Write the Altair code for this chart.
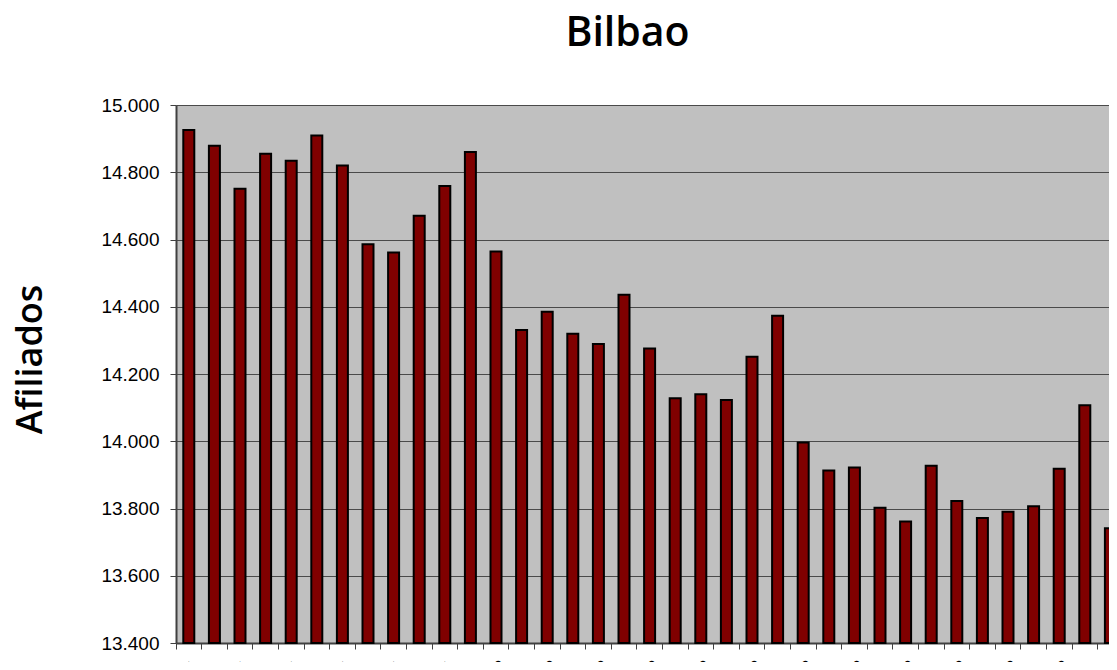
import altair as alt
import pandas as pd

periodos = [
    "ene-11", "feb-11", "mar-11", "abr-11", "may-11", "jun-11",
    "jul-11", "ago-11", "sep-11", "oct-11", "nov-11", "dic-11",
    "ene-12", "feb-12", "mar-12", "abr-12", "may-12", "jun-12",
    "jul-12", "ago-12", "sep-12", "oct-12", "nov-12", "dic-12",
    "ene-13", "feb-13", "mar-13", "abr-13", "may-13", "jun-13",
    "jul-13", "ago-13", "sep-13", "oct-13", "nov-13", "dic-13",
    "ene-14",
]
afiliados = [
    14926, 14879, 14751, 14855, 14834, 14909, 14820, 14586, 14561, 14671, 14759, 14860,
    14564, 14331, 14385, 14320, 14289, 14436, 14276, 14128, 14140, 14123, 14251, 14373,
    13996, 13913, 13922, 13802, 13761, 13927, 13822, 13772, 13790, 13807, 13918, 14107,
    13741,
]
y_ticks = [13400, 13600, 13800, 14000, 14200, 14400, 14600, 14800, 15000]
y_min = 13400
y_max = 15000

df = pd.DataFrame({"periodo": periodos, "afiliados": afiliados})

chart = (
    alt.Chart(df)
    .mark_bar(color="#800000", stroke="#000000", strokeWidth=2, width=11)
    .encode(
        x=alt.X(
            "periodo:N",
            sort=None,
            scale=alt.Scale(range=[0, 947.2], paddingInner=0, paddingOuter=0),
            axis=alt.Axis(
                title=None,
                bandPosition=0,
                labelAngle=315,
                labelAlign="right",
                labelBaseline="middle",
                labelOffset=8,
                labelPadding=14,
                labelFont="Liberation Sans",
                labelFontSize=19,
                labelColor="#000000",
                labelExpr="indexof(['ene','mar','may','jul','sep','nov'], slice(datum.label,0,3)) >= 0 ? datum.label : ''",
                tickSize=6,
                tickColor="#404040",
                domainColor="#404040",
                domainWidth=2,
            ),
        ),
        y=alt.Y(
            "afiliados:Q",
            scale=alt.Scale(domain=[y_min, y_max], nice=False, zero=False),
            axis=alt.Axis(
                title="Afiliados",
                titleFont="Open Sans",
                titleFontSize=36,
                titleFontWeight=600,
                titleColor="#000000",
                titleAngle=270,
                titleX=-135,
                titleY=254,
                titleAlign="center",
                titleBaseline="alphabetic",
                values=y_ticks,
                labelExpr="replace(format(datum.value, ','), ',', '.')",
                labelFont="Liberation Sans",
                labelFontSize=19,
                labelColor="#000000",
                labelPadding=11,
                tickSize=6,
                tickColor="#404040",
                domainColor="#404040",
                domainWidth=2,
                gridColor="#4a4a4a",
                gridWidth=1,
            ),
        ),
        y2=alt.datum(y_min),
    )
    .properties(
        width=933,
        height=538,
        title=alt.TitleParams(
            text="Bilbao",
            font="Open Sans",
            fontSize=41,
            fontWeight=600,
            color="#000000",
            anchor="middle",
            dx=-15,
            offset=41,
        ),
        padding={"left": 168, "top": 97, "right": 0, "bottom": 19},
        autosize=alt.AutoSizeParams(type="none"),
    )
    .configure(background="#ffffff")
    .configure_view(fill="#c0c0c0", stroke=None)
)

chart.save("out.html", embed_options={"renderer": "svg", "actions": False})
